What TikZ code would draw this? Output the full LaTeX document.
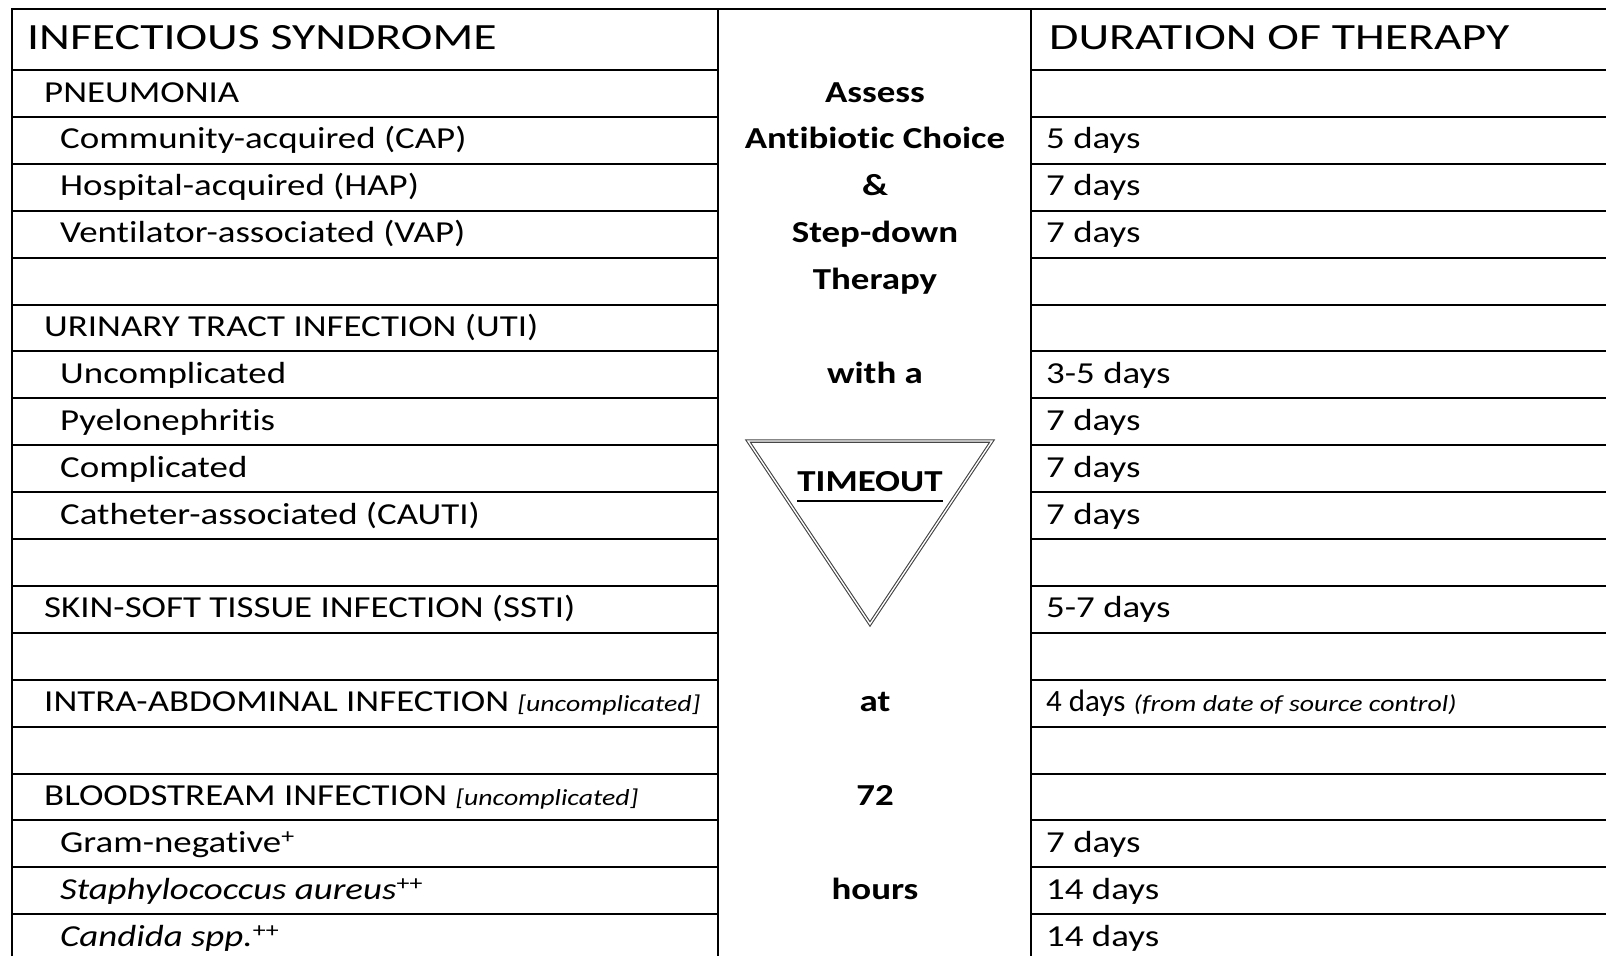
\documentclass[tikz,border=0pt]{standalone}
\usepackage{fontspec}
\setmainfont{Carlito}[FakeStretch=1.21, Ligatures=NoCommon]
\newfontfamily\plainfont{Carlito}[Ligatures=NoCommon]
\newfontfamily\headfont{Carlito}[FakeStretch=1.29, Ligatures=NoCommon]
\usepackage{tikz}

\tikzset{
  rule/.style={line width=2pt},
  item/.style={anchor=base west, inner sep=0pt},
  headitem/.style={item, font=\headfont\fontsize{37}{42}\selectfont},
  midtext/.style={anchor=base, inner sep=0pt, font=\fontsize{30.5}{36}\selectfont\bfseries},
  timeoutsign/.style={draw=gray!55!black, double=white, double distance=1.3pt, line width=1.1pt}
}
\newcommand{\notetext}[1]{{\fontsize{23}{27}\selectfont\itshape #1}}

\begin{document}
\begin{tikzpicture}[x=1pt, y=-1pt, font=\fontsize{30.5}{36}\selectfont]
        \useasboundingbox (0,0) rectangle (1606,956);

        % Draw the frame
        \draw[rule] (12,956) -- (12,9) -- (1606,9);
        \draw[rule] (718,9) -- (718,956);
        \draw[rule] (1031,9) -- (1031,956);

        % Draw the rows
        \draw[rule] (12,70) -- (718,70) (1031,70) -- (1606,70);
        \draw[rule] (12,116.9) -- (718,116.9) (1031,116.9) -- (1606,116.9);
        \draw[rule] (12,163.8) -- (718,163.8) (1031,163.8) -- (1606,163.8);
        \draw[rule] (12,210.7) -- (718,210.7) (1031,210.7) -- (1606,210.7);
        \draw[rule] (12,257.6) -- (718,257.6) (1031,257.6) -- (1606,257.6);
        \draw[rule] (12,304.5) -- (718,304.5) (1031,304.5) -- (1606,304.5);
        \draw[rule] (12,351.4) -- (718,351.4) (1031,351.4) -- (1606,351.4);
        \draw[rule] (12,398.3) -- (718,398.3) (1031,398.3) -- (1606,398.3);
        \draw[rule] (12,445.2) -- (718,445.2) (1031,445.2) -- (1606,445.2);
        \draw[rule] (12,492.1) -- (718,492.1) (1031,492.1) -- (1606,492.1);
        \draw[rule] (12,539.0) -- (718,539.0) (1031,539.0) -- (1606,539.0);
        \draw[rule] (12,585.9) -- (718,585.9) (1031,585.9) -- (1606,585.9);
        \draw[rule] (12,632.8) -- (718,632.8) (1031,632.8) -- (1606,632.8);
        \draw[rule] (12,679.7) -- (718,679.7) (1031,679.7) -- (1606,679.7);
        \draw[rule] (12,726.6) -- (718,726.6) (1031,726.6) -- (1606,726.6);
        \draw[rule] (12,773.5) -- (718,773.5) (1031,773.5) -- (1606,773.5);
        \draw[rule] (12,820.4) -- (718,820.4) (1031,820.4) -- (1606,820.4);
        \draw[rule] (12,867.3) -- (718,867.3) (1031,867.3) -- (1606,867.3);
        \draw[rule] (12,914.2) -- (718,914.2) (1031,914.2) -- (1606,914.2);

        % Headers
        \node[headitem] (syndrome) at (27,49) {INFECTIOUS SYNDROME};
        \node[headitem] (duration) at (1049,49) {DURATION OF THERAPY};

        % Syndromes
        \node[item] (pneu) at (44,102) {PNEUMONIA};
        \node[item] (cap) at (60,148.9) {Community-acquired (CAP)};
        \node[item] (hap) at (60,195.8) {Hospital-acquired (HAP)};
        \node[item] (vap) at (60,242.7) {Ventilator-associated (VAP)};
        \node[item] (uti) at (44,336.5) {URINARY TRACT INFECTION (UTI)};
        \node[item] (uncomp) at (60,383.4) {Uncomplicated};
        \node[item] (pyelo) at (60,430.3) {Pyelonephritis};
        \node[item] (compl) at (60,477.2) {Complicated};
        \node[item] (cauti) at (60,524.1) {Catheter-associated (CAUTI)};
        \node[item] (ssti) at (44,617.9) {SKIN-SOFT TISSUE INFECTION (SSTI)};
        \node[item] (intra) at (44,711.7) {INTRA-ABDOMINAL INFECTION \notetext{[uncomplicated]}};
        \node[item] (blood) at (44,805.5) {BLOODSTREAM INFECTION \notetext{[uncomplicated]}};
        \node[item] (gram) at (60,852.4) {Gram-negative\textsuperscript{+}};
        \node[item] (staph) at (60,899.3) {\itshape Staphylococcus aureus\upshape\textsuperscript{++}};
        \node[item] (cand) at (60,946.2) {\itshape Candida spp.\upshape\textsuperscript{++}};

        % Durations
        \node[item] (dcap) at (1046,148.9) {5 days};
        \node[item] (dhap) at (1046,195.8) {7 days};
        \node[item] (dvap) at (1046,242.7) {7 days};
        \node[item] (duncomp) at (1046,383.4) {3-5 days};
        \node[item] (dpyelo) at (1046,430.3) {7 days};
        \node[item] (dcompl) at (1046,477.2) {7 days};
        \node[item] (dcauti) at (1046,524.1) {7 days};
        \node[item] (dssti) at (1046,617.9) {5-7 days};
        \node[item] (dintra) at (1046,711.7) {{\plainfont\fontsize{31}{36}\selectfont 4 days} \notetext{(from date of source control)}};
        \node[item] (dgram) at (1046,852.4) {7 days};
        \node[item] (dstaph) at (1046,899.3) {14 days};
        \node[item] (dcand) at (1046,946.2) {14 days};

        % Middle column
        \node[midtext] (assess) at (875,102) {Assess};
        \node[midtext] (choice) at (875,148.9) {Antibiotic Choice};
        \node[midtext] (amp) at (875,195.8) {\&};
        \node[midtext] (stepdown) at (875,242.7) {Step-down};
        \node[midtext] (therapy) at (875,289.6) {Therapy};
        \node[midtext] (witha) at (875,383.4) {with a};
        \node[midtext] (at) at (875,711.7) {at};
        \node[midtext] (hrs) at (875,805.5) {72};
        \node[midtext] (hours) at (875,899.3) {hours};

        % Timeout sign
        \draw[timeoutsign] (748,441) -- (992,441) -- (870,624) -- cycle;
        \node[midtext] (timeout) at (870,491) {TIMEOUT};
        \draw[line width=2.2pt] ([yshift=-10pt]timeout.base west) -- ([yshift=-10pt]timeout.base east);
    \end{tikzpicture}
\end{document}
